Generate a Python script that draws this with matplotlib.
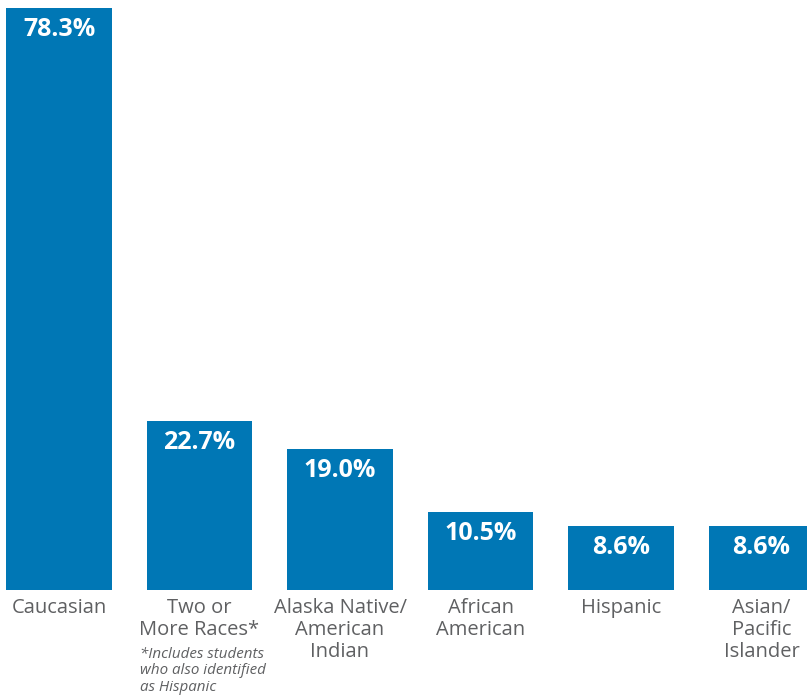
import matplotlib.pyplot as plt
import matplotlib.transforms as mtransforms

plt.rcParams['font.family'] = ['Open Sans', 'DejaVu Sans']

# data
categories = ['Caucasian', 'Two or\nMore Races*', 'Alaska Native/\nAmerican\nIndian',
              'African\nAmerican', 'Hispanic', 'Asian/\nPacific\nIslander']
values = [78.3, 22.7, 19.0, 10.5, 8.6, 8.6]
footnote = '*Includes students\nwho also identified\nas Hispanic'

bar_color = '#0077B5'
text_gray = '#5f6062'

fig = plt.figure(figsize=(8.07, 6.98), dpi=100)
ax = fig.add_axes([0, 108 / 698, 1, 590 / 698])

x = list(range(len(values)))
ax.bar(x, values, width=0.75, color=bar_color)
ax.set_xlim(-59 / 140.5, (807 - 59) / 140.5)
ax.set_ylim(0, 78.3 * 590 / 582)
ax.axis('off')

# value labels inside bar tops
for xi, v in zip(x, values):
    ax.annotate(f'{v:.1f}%', xy=(xi, v), xytext=(0, -6.5), textcoords='offset points',
                ha='center', va='top', color='white', fontsize=18, fontweight='bold')

# category labels under the bars
trans = mtransforms.blended_transform_factory(ax.transData, ax.transAxes)
for xi, c in zip(x, categories):
    ax.text(xi, -0.0135, c, transform=trans, ha='center', va='top',
            fontsize=14.5, color=text_gray, linespacing=1.12)

# footnote
ax.text(0.575, -0.0965, footnote, transform=trans, ha='left', va='top',
        fontsize=10.9, style='italic', color=text_gray, linespacing=1.12)

fig.savefig('out.png', dpi=100)
